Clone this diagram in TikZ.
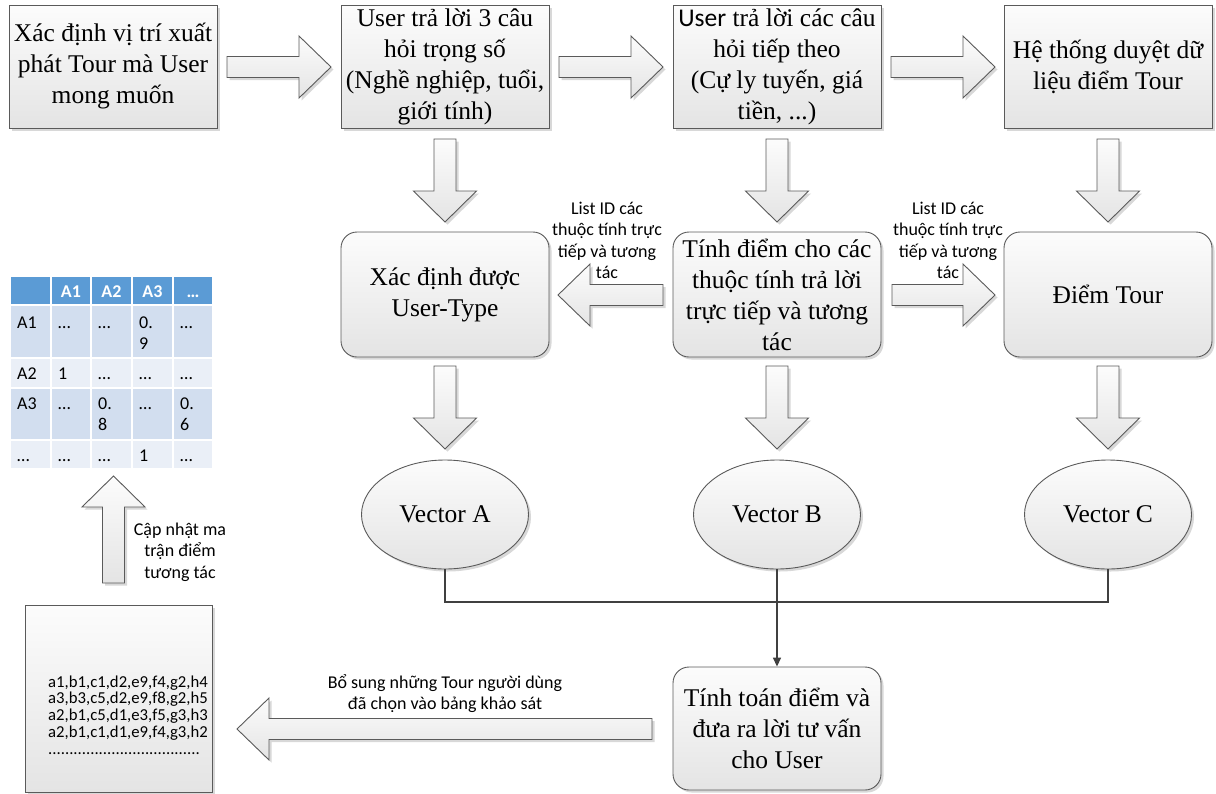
\documentclass[tikz,border=0pt]{standalone}
\usepackage{fontspec}
\setmainfont{Liberation Serif}
\newfontfamily\calfont{Carlito}
\usetikzlibrary{shapes.geometric,shadows,arrows.meta}

\definecolor{edge}{HTML}{5A5A5A}
\definecolor{fillA}{HTML}{FCFCFC}
\definecolor{fillB}{HTML}{E4E4E4}
\definecolor{conncol}{HTML}{404040}
\definecolor{hdr}{HTML}{5B9BD5}
\definecolor{rowA}{HTML}{D2DEEF}
\definecolor{rowB}{HTML}{EAEFF7}

\tikzset{
  softfill/.style={top color=fillA, bottom color=fillB, draw=edge, line width=0.9pt,
    drop shadow={shadow xshift=2.5pt, shadow yshift=-2.5pt, fill=black!22, opacity=0.7}},
  box/.style={softfill, rectangle, minimum width=208pt, minimum height=123pt,
    inner sep=0pt, align=center, font=\fontsize{25.5}{31}\selectfont},
  rbox/.style={box, rounded corners=16pt, minimum height=125pt},
  ell/.style={softfill, ellipse, minimum width=167pt, minimum height=109pt,
    inner sep=0pt, font=\fontsize{25.5}{31}\selectfont},
  lbl/.style={align=center, inner sep=0pt, font=\calfont\fontsize{18}{21.5}\selectfont},
  blk/.style={softfill, line join=miter},
  conn/.style={draw=conncol, line width=1.6pt},
  cell/.style={draw=white, line width=2pt},
  hdrtxt/.style={anchor=base, text=white, inner sep=0pt, font=\calfont\bfseries\fontsize{18}{20}\selectfont},
  celltxt/.style={anchor=base west, inner sep=0pt, font=\calfont\fontsize{18}{20}\selectfont}
}

% horizontal block arrow: tail x, head base x, tip x, centre y
\newcommand{\hblk}[4]{%
  \path[blk] ({#1},{#4-10.5}) -- ({#2},{#4-10.5}) -- ({#2},{#4-31}) -- ({#3},{#4})
    -- ({#2},{#4+31}) -- ({#2},{#4+10.5}) -- ({#1},{#4+10.5}) -- cycle;}
% vertical block arrow: centre x, tail y, head base y, tip y
\newcommand{\vblk}[4]{%
  \path[blk] ({#1-11},{#2}) -- ({#1-11},{#3}) -- ({#1-31.5},{#3}) -- ({#1},{#4})
    -- ({#1+31.5},{#3}) -- ({#1+11},{#3}) -- ({#1+11},{#2}) -- cycle;}

\begin{document}
\begin{tikzpicture}[x=1pt,y=-1pt]
\useasboundingbox (0,0) rectangle (1216,793);

% top row of steps
\node[box] (s1) at (113,66.5) {Xác định vị trí xuất\\phát Tour mà User\\mong muốn};
\node[box] (s2) at (445,66.5) {User trả lời 3 câu\\hỏi trọng số\\(Nghề nghiệp, tuổi,\\giới tính)};
\node[box] (s3) at (777,66.5) {{\calfont User} trả lời các câu\\hỏi tiếp theo\\(Cự ly tuyến, giá\\tiền, ...)};
\node[box] (s4) at (1108,66.5) {Hệ thống duyệt dữ\\liệu điểm Tour};

\hblk{227}{299}{331}{67}
\hblk{559}{631}{663}{67}
\hblk{891}{963}{995}{67}

% second row
\vblk{445}{139}{191}{222}
\vblk{777}{139}{191}{222}
\vblk{1108}{139}{191}{222}

\node[rbox] (r1) at (445,294.5) {Xác định được\\User-Type};
\node[rbox] (r2) at (777,294.5) {Tính điểm cho các\\thuộc tính trả lời\\trực tiếp và tương\\tác};
\node[rbox] (r3) at (1108,294.5) {Điểm Tour};

\hblk{663}{590}{558}{295}
\hblk{892}{963}{995}{295}
\node[lbl] (l1) at (607,240.5) {List ID các\\thuộc tính trực\\tiếp và tương\\tác};
\node[lbl] (l2) at (948,240.5) {List ID các\\thuộc tính trực\\tiếp và tương\\tác};

% vectors
\vblk{445}{366}{418}{449}
\vblk{777}{366}{418}{449}
\vblk{1108}{366}{418}{449}

\node[ell] (va) at (445,514.5) {Vector A};
\node[ell] (vb) at (777,514.5) {Vector B};
\node[ell] (vc) at (1108,514.5) {Vector C};

% result
\node[rbox, minimum height=123pt] (r4) at (777,728.5) {Tính toán điểm và\\đưa ra lời tư vấn\\cho User};

\coordinate (j1) at (445,602);
\draw[conn] (va.south) -- (j1) -| (vc.south);
\draw[conn, -{Triangle[length=9pt,width=8pt]}] (vb.south) -- (r4.north);

% feedback to the survey table
\hblk{652}{269}{237}{729}
\node[lbl] (l3) at (445,693.5) {Bổ sung những Tour người dùng\\đã chọn vào bảng khảo sát};

\node[softfill, rectangle, minimum width=187pt, minimum height=187pt, inner sep=0pt] (db) at (118.5,698.5) {};
\node[align=left, inner sep=0pt, font=\calfont\fontsize{16.7}{16.8}\selectfont] (dt) at (128,715)
  {a1,b1,c1,d2,e9,f4,g2,h4\\a3,b3,c5,d2,e9,f8,g2,h5\\a2,b1,c5,d1,e3,f5,g3,h3\\a2,b1,c1,d1,e9,f4,g3,h2\\....................................};

\vblk{113.5}{583}{507}{476}
\node[lbl] (l4) at (180,552) {Cập nhật ma\\trận điểm\\tương tác};

% interaction matrix
\foreach \xa/\xb in {10/51,51/91,91/132,132/173,173/213}{
  \draw[cell, fill=hdr] (\xa,276) rectangle (\xb,305);
  \draw[cell, fill=rowA] (\xa,305) rectangle (\xb,358);
  \draw[cell, fill=rowB] (\xa,358) rectangle (\xb,388);
  \draw[cell, fill=rowA] (\xa,388) rectangle (\xb,440);
  \draw[cell, fill=rowB] (\xa,440) rectangle (\xb,469);
}
\node[hdrtxt] (h1) at (71,297) {A1};
\node[hdrtxt] (h2) at (111.5,297) {A2};
\node[hdrtxt] (h3) at (152.5,297) {A3};
\node[hdrtxt] (h4) at (193,297) {…};

\node[celltxt] (c11) at (17,328) {A1};
\node[celltxt] (c12) at (58,328) {…};
\node[celltxt] (c13) at (98,328) {…};
\node[celltxt] (c14) at (139,328) {0.};
\node[celltxt] (c14b) at (139,349) {9};
\node[celltxt] (c15) at (180,328) {…};

\node[celltxt] (c21) at (17,379) {A2};
\node[celltxt] (c22) at (58,379) {1};
\node[celltxt] (c23) at (98,379) {…};
\node[celltxt] (c24) at (139,379) {…};
\node[celltxt] (c25) at (180,379) {…};

\node[celltxt] (c31) at (17,409) {A3};
\node[celltxt] (c32) at (58,409) {…};
\node[celltxt] (c33) at (98,409) {0.};
\node[celltxt] (c33b) at (98,430) {8};
\node[celltxt] (c34) at (139,409) {…};
\node[celltxt] (c35) at (180,409) {0.};
\node[celltxt] (c35b) at (180,430) {6};

\node[celltxt] (c41) at (17,461) {…};
\node[celltxt] (c42) at (58,461) {…};
\node[celltxt] (c43) at (98,461) {…};
\node[celltxt] (c44) at (139,461) {1};
\node[celltxt] (c45) at (180,461) {…};
\end{tikzpicture}
\end{document}
